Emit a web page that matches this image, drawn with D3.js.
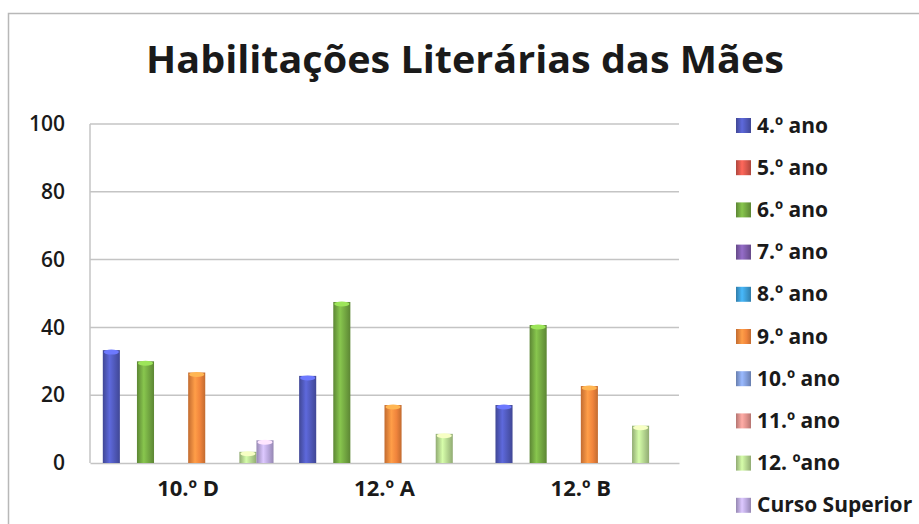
<!DOCTYPE html>
<html>
<head>
<meta charset="utf-8">
<script src="https://cdn.jsdelivr.net/npm/d3@7"></script>
<style>
  body { margin: 0; background: #fff; }
  svg { display: block; }
  text { font-family: "Open Sans", "DejaVu Sans", sans-serif; fill: #1a1a1a; }
</style>
</head>
<body>
<div id="chart"></div>
<script>
(function() {
    'use strict';

    // turmas (categorias do eixo x)
    const turmas = ['10.º D', '12.º A', '12.º B'];

    // séries (legenda)
    const series = ['4.º ano', '5.º ano', '6.º ano', '7.º ano', '8.º ano',
                    '9.º ano', '10.º ano', '11.º ano', '12. ºano', 'Curso Superior'];

    // valores por série, na ordem das turmas
    const ano4   = [33.3, 25.7, 17.1];
    const ano5   = [0, 0, 0];
    const ano6   = [30.0, 47.5, 40.7];
    const ano7   = [0, 0, 0];
    const ano8   = [0, 0, 0];
    const ano9   = [26.7, 17.1, 22.7];
    const ano10  = [0, 0, 0];
    const ano11  = [0, 0, 0];
    const ano12  = [3.3, 8.6, 11.0];
    const superior = [6.7, 0, 0];

    const yTicks = [0, 20, 40, 60, 80, 100];

    const valores = [ano4, ano5, ano6, ano7, ano8, ano9, ano10, ano11, ano12, superior];

    const cores = ['#4f58b8', '#d8574c', '#72a641', '#7d5ba8', '#3c9bd2',
                   '#f0843c', '#819cd8', '#e0918c', '#b3d48e', '#b9a7dc'];

    const W = 919, H = 524;
    const plot = { left: 90, right: 679, top: 124, bottom: 463 };

    const svg = d3.select('#chart').append('svg')
        .attr('width', W)
        .attr('height', H);

    // gradientes "cilindro"
    const defs = svg.append('defs');
    cores.forEach((c, i) => {
        const g = defs.append('linearGradient')
            .attr('id', 'grad' + i)
            .attr('x1', '0%').attr('x2', '100%')
            .attr('y1', '0%').attr('y2', '0%');
        const dark = d3.color(c).darker(0.6);
        const light = d3.color(c).brighter(0.5);
        g.append('stop').attr('offset', '0%').attr('stop-color', dark);
        g.append('stop').attr('offset', '40%').attr('stop-color', light);
        g.append('stop').attr('offset', '70%').attr('stop-color', c);
        g.append('stop').attr('offset', '100%').attr('stop-color', dark);
    });

    // moldura do gráfico
    svg.append('rect')
        .attr('x', 8.5).attr('y', 13.5)
        .attr('width', W + 10).attr('height', H + 10)
        .attr('fill', 'none')
        .attr('stroke', '#b8b8b8')
        .attr('stroke-width', 1.5);

    // título
    svg.append('text')
        .attr('x', 465)
        .attr('y', 73)
        .attr('text-anchor', 'middle')
        .attr('textLength', 638)
        .attr('lengthAdjust', 'spacingAndGlyphs')
        .style('font-size', '38px')
        .style('font-weight', 'bold')
        .text('Habilitações Literárias das Mães');

    const y = d3.scaleLinear().domain([0, 100]).range([plot.bottom, plot.top]);

    const x0 = d3.scaleBand()
        .domain(turmas)
        .range([plot.left, plot.right])
        .paddingInner(0).paddingOuter(0);

    // gap width 150% como no Excel
    const barW = x0.bandwidth() / (series.length + 1.5);
    const x1 = d3.scaleBand()
        .domain(series)
        .range([barW * 0.75, x0.bandwidth() - barW * 0.75])
        .padding(0);

    // grelha
    svg.append('g')
        .selectAll('line')
        .data(yTicks.filter(t => t > 0))
        .enter().append('line')
        .attr('x1', plot.left).attr('x2', plot.right)
        .attr('y1', d => y(d)).attr('y2', d => y(d))
        .attr('stroke', '#c4c4c4')
        .attr('stroke-width', 1.5);

    // eixos
    svg.append('line')
        .attr('x1', plot.left).attr('x2', plot.left)
        .attr('y1', plot.top).attr('y2', plot.bottom)
        .attr('stroke', '#c4c4c4').attr('stroke-width', 1.5);

    const yAxis = svg.append('g')
        .attr('transform', `translate(${plot.left},0)`)
        .call(d3.axisLeft(y).tickValues(yTicks).tickSize(0).tickPadding(25));
    yAxis.select('.domain').remove();
    yAxis.selectAll('text')
        .style('font-size', '21px')
        .style('font-weight', '600')
        .style('font-family', '"Open Sans", sans-serif')
        .attr('fill', '#1a1a1a');

    const xAxis = svg.append('g')
        .attr('transform', `translate(0,${plot.bottom})`)
        .call(d3.axisBottom(x0).tickSize(0).tickPadding(17));
    xAxis.select('.domain')
        .attr('stroke', '#c4c4c4').attr('stroke-width', 1.5);
    xAxis.selectAll('text')
        .style('font-size', '22px')
        .style('font-weight', 'bold')
        .style('font-family', '"Open Sans", sans-serif')
        .attr('fill', '#1a1a1a');

    // barras
    const dados = [];
    turmas.forEach((t, ti) => {
        series.forEach((s, si) => {
            dados.push({ turma: t, serie: s, idx: si, v: valores[si][ti] });
        });
    });

    const barras = svg.append('g')
        .selectAll('g')
        .data(dados.filter(d => d.v > 0))
        .enter().append('g');

    barras.append('rect')
        .attr('x', d => x0(d.turma) + x1(d.serie))
        .attr('y', d => y(d.v))
        .attr('width', x1.bandwidth())
        .attr('height', d => y(0) - y(d.v))
        .attr('fill', d => `url(#grad${d.idx})`);

    // topo do cilindro
    barras.append('ellipse')
        .attr('cx', d => x0(d.turma) + x1(d.serie) + x1.bandwidth() / 2)
        .attr('cy', d => y(d.v) + 2)
        .attr('rx', x1.bandwidth() / 2 - 1)
        .attr('ry', 2.5)
        .attr('fill', d => d3.color(cores[d.idx]).brighter(0.9));

    // legenda
    const leg = svg.append('g')
        .selectAll('g')
        .data(series)
        .enter().append('g')
        .attr('transform', (d, i) => `translate(736, ${125 + i * 42.2})`);

    leg.append('rect')
        .attr('x', 0).attr('y', -7)
        .attr('width', 15).attr('height', 15)
        .attr('fill', (d, i) => `url(#grad${i})`);

    leg.append('text')
        .attr('x', 21)
        .attr('y', 0)
        .attr('dy', '0.36em')
        .style('font-size', '21px')
        .style('font-weight', 'bold')
        .text(d => d);
})();
</script>
</body>
</html>
